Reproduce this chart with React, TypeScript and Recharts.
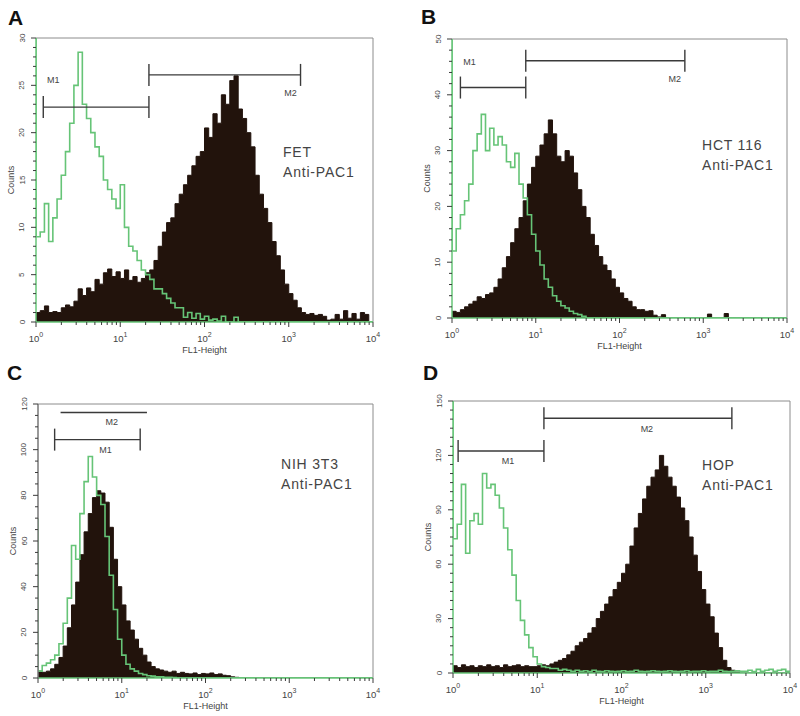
import React from 'react';
import { ComposedChart, Area, Line, XAxis, YAxis, ReferenceLine } from 'recharts';

// channel positions as log10(FL1-Height), 0.05 decade apart
const bins = [
  0, 0.05, 0.1, 0.15, 0.2, 0.25, 0.3, 0.35, 0.4, 0.45,
  0.5, 0.55, 0.6, 0.65, 0.7, 0.75, 0.8, 0.85, 0.9, 0.95,
  1, 1.05, 1.1, 1.15, 1.2, 1.25, 1.3, 1.35, 1.4, 1.45,
  1.5, 1.55, 1.6, 1.65, 1.7, 1.75, 1.8, 1.85, 1.9, 1.95,
  2, 2.05, 2.1, 2.15, 2.2, 2.25, 2.3, 2.35, 2.4, 2.45,
  2.5, 2.55, 2.6, 2.65, 2.7, 2.75, 2.8, 2.85, 2.9, 2.95,
  3, 3.05, 3.1, 3.15, 3.2, 3.25, 3.3, 3.35, 3.4, 3.45,
  3.5, 3.55, 3.6, 3.65, 3.7, 3.75, 3.8, 3.85, 3.9, 3.95,
  4,
];
const decades = [0, 1, 2, 3, 4];

// A - FET
const fetControl = [
  99, 9, 9.5, 12.5, 8.5, 11, 13, 15.5, 18, 21,
  25, 28.5, 23, 21.5, 20, 18.5, 17.5, 15, 14, 13,
  12, 14.5, 10, 8, 7.5, 6.5, 5.5, 5, 4.5, 3.5,
  3.5, 3, 2.5, 2, 1.5, 1.5, 0.5, 1, 0.4, 0.9,
  0.3, 0.6, 0.2, 0.3, 0.1, 0.6, 0, 0, 0.5, 0,
  0, 0, 0, 0, 0, 0, 0, 0, 0, 0,
  0, 0, 0, 0, 0, 0, 0, 0, 0, 0,
  0, 0, 0, 0, 0, 0, 0, 0, 0, 0,
  0,
];
const fetSample = [
  1, 1, 1.2, 1.7, 1, 1.1, 1, 1.5, 1.8, 1.6,
  2.2, 3.5, 2.8, 3.6, 3.2, 4.5, 4, 5.2, 5.6, 4.8,
  5.3, 4.6, 5.5, 4.4, 4.8, 4.2, 4.6, 5.2, 5.5, 6.5,
  8, 9.5, 10.5, 11, 12.5, 13.5, 14.5, 15.5, 16.5, 17.5,
  18, 20.5, 19.5, 22, 21, 24, 23, 25.5, 26, 22.5,
  21.5, 20, 18.5, 15.5, 13.5, 12, 10.5, 8.5, 7, 5.5,
  4, 3, 2.3, 1.5, 1, 0.8, 0.9, 0.7, 0.8, 0.6,
  0.2, 0.3, 0.8, 0.3, 1.2, 0.4, 0.9, 0.3, 1, 0.8,
  0,
];

// B - HCT 116
const hctControl = [
  99, 12, 16, 18.5, 21, 24, 30, 33, 36.5, 30,
  34, 31, 32.5, 31, 28, 27, 29.5, 24, 21.5, 18.5,
  15, 12, 9.5, 7, 5.5, 4, 3, 2.2, 1.8, 1.2,
  0.8, 0.6, 0.3, 0, 0, 0, 0, 0, 0, 0,
  0, 0, 0, 0, 0, 0, 0, 0, 0, 0,
  0, 0, 0, 0, 0, 0, 0, 0, 0, 0,
  0, 0, 0, 0, 0, 0, 0, 0, 0, 0,
  0, 0, 0, 0, 0, 0, 0, 0, 0, 0,
  0,
];
const hctSample = [
  1, 1.2, 1, 1.5, 2, 2.5, 3, 3.8, 3.5, 4.2,
  4.5, 5.5, 7, 9, 11, 13.5, 16, 18, 21, 24,
  27, 29, 31, 33, 35.5, 33, 29, 28, 30, 29,
  26, 23, 20, 18, 15, 13, 11, 9.5, 8.5, 7,
  5.5, 4.5, 3.5, 3, 2, 1.5, 1.5, 1.2, 1.3, 0.5,
  0.2, 0.6, 0, 0, 0, 0, 0, 0, 0, 0,
  0, 0, 0.7, 0, 0, 0, 0.8, 0, 0, 0,
  0, 0, 0, 0, 0, 0, 0, 0, 0, 0,
  0,
];

// C - NIH 3T3
const nihControl = [
  70, 3, 5.5, 6.5, 8, 10, 15, 24, 35, 58,
  52, 72, 86, 97, 88, 80, 76, 62, 45, 30,
  17, 10, 6, 4, 3, 2, 1.5, 1, 0.8, 0.5,
  0.5, 0.3, 0.3, 0.2, 0, 0, 0, 0, 0, 0,
  0, 0, 0, 0, 0, 0, 0, 0, 0, 0,
  0, 0, 0, 0, 0, 0, 0, 0, 0, 0,
  0, 0, 0, 0, 0, 0, 0, 0, 0, 0,
  0, 0, 0, 0, 0, 0, 0, 0, 0, 0,
  0,
];
const nihSample = [
  2, 3, 2.5, 3, 4, 6, 9, 14, 22, 32,
  42, 54, 64, 72, 79, 82, 81, 77, 66, 52,
  40, 32, 25, 21, 17, 13, 10, 7, 5, 4,
  3.5, 3, 2.5, 3, 2, 2.5, 2, 1.8, 2.2, 1.5,
  2, 1.8, 2.2, 1.5, 1.8, 1.2, 1, 0.5, 0.3, 0,
  0, 0, 0, 0, 0, 0, 0, 0, 0, 0,
  0, 0, 0, 0, 0, 0, 0, 0, 0, 0,
  0, 0, 0, 0, 0, 0, 0, 0, 0, 0,
  0,
];

// D - HOP
const hopControl = [
  999, 74, 82, 104, 66, 84, 88, 82, 110, 102,
  104, 98, 91, 80, 68, 54, 40, 29, 21, 14,
  9, 5, 3.5, 3, 2.5, 2.5, 1.5, 2, 1.5, 1,
  1.5, 1, 1.2, 0.8, 1.5, 1, 0.8, 1.2, 1, 0.8,
  1, 1.2, 0.8, 1, 1.5, 1, 0.8, 1, 1.2, 1,
  0.8, 1, 1.2, 1, 0.8, 1, 1.2, 0.8, 1, 1,
  1.2, 0.8, 1, 1, 1.5, 1, 0.8, 1, 1.2, 1,
  1, 1.5, 0.8, 2, 1, 1.5, 2, 1, 1.5, 2,
  1,
];
const hopSample = [
  3.5, 4, 3, 4.5, 3.5, 4, 3, 4, 3.5, 4.5,
  3.5, 4, 3, 4.5, 3.5, 4, 4.5, 3.5, 4, 3.5,
  3.5, 4, 4.5, 4, 5, 6, 7, 8, 10, 12,
  15, 17, 19, 22, 25, 30, 34, 38, 42, 46,
  50, 55, 60, 70, 80, 88, 96, 103, 108, 112,
  120, 114, 108, 103, 97, 91, 84, 75, 65, 56,
  46, 38, 31, 22, 14, 7, 3, 1.5, 0.5, 0,
  0, 0, 0, 0, 0, 0, 0, 0, 0, 0,
  0,
];

// marker gates: FL1-Height range and the count level they are drawn at
const fetGates = [
  { name: 'M1', from: 1.22, to: 21.9, level: 22.7 },
  { name: 'M2', from: 21.9, to: 1380, level: 26.1 },
];
const hctGates = [
  { name: 'M1', from: 1.26, to: 7.6, level: 41.3 },
  { name: 'M2', from: 7.6, to: 603, level: 46.1 },
];
const nihGates = [
  { name: 'M2', from: 1.86, to: 20, level: 116.3 },
  { name: 'M1', from: 1.58, to: 16.6, level: 104.4 },
];
const hopGates = [
  { name: 'M2', from: 12, to: 2042, level: 140.5 },
  { name: 'M1', from: 1.15, to: 12, level: 122.4 },
];

const fetTicks = [0, 5, 10, 15, 20, 25, 30];
const hctTicks = [0, 10, 20, 30, 40, 50];
const nihTicks = [0, 20, 40, 60, 80, 100, 120];
const hopTicks = [0, 30, 60, 90, 120, 150];

const GREEN = '#66c477';
const FILL = '#22130c';
const INK = '#3a3a3a';
const FRAME = '#8c8c8c';
const FONT = '"Liberation Sans", Arial, Helvetica, sans-serif';

const minorX = decades
  .slice(0, -1)
  .flatMap((d) => [2, 3, 4, 5, 6, 7, 8, 9].map((m) => d + Math.log10(m)));
const xTickValues = [...decades, ...minorX].sort((a, b) => a - b);

type LabelSpot = { anchor: 'start' | 'end' | 'middle'; dx: number; dy: number };

const panels = [
  {
    letter: 'A', cell: 'FET', control: fetControl, sample: fetSample, gates: fetGates,
    yTicks: fetTicks, yStep: 1, yAxisColor: GREEN,
    box: { x: 0, y: 0, w: 400, h: 360 }, plot: { l: 36, t: 38, r: 373, b: 322 },
    letterAt: [8, 25], cellAt: [283, 157],
    spots: [{ anchor: 'start', dx: 10, dy: -24 }, { anchor: 'end', dx: -10, dy: 21 }] as LabelSpot[],
  },
  {
    letter: 'B', cell: 'HCT 116', control: hctControl, sample: hctSample, gates: hctGates,
    yTicks: hctTicks, yStep: 2, yAxisColor: GREEN,
    box: { x: 400, y: 0, w: 400, h: 360 }, plot: { l: 452, t: 39, r: 787, b: 318 },
    letterAt: [421, 24], cellAt: [702, 150],
    spots: [{ anchor: 'start', dx: 9, dy: -23 }, { anchor: 'end', dx: -10, dy: 21 }] as LabelSpot[],
  },
  {
    letter: 'C', cell: 'NIH 3T3', control: nihControl, sample: nihSample, gates: nihGates,
    yTicks: nihTicks, yStep: 5, yAxisColor: '#777',
    box: { x: 0, y: 360, w: 400, h: 356 }, plot: { l: 38, t: 404, r: 373, b: 678 },
    letterAt: [7, 380], cellAt: [281, 469],
    spots: [{ anchor: 'middle', dx: 8, dy: 13 }, { anchor: 'middle', dx: 8, dy: 13 }] as LabelSpot[],
  },
  {
    letter: 'D', cell: 'HOP', control: hopControl, sample: hopSample, gates: hopGates,
    yTicks: hopTicks, yStep: 5, yAxisColor: GREEN,
    box: { x: 400, y: 360, w: 400, h: 356 }, plot: { l: 453, t: 401, r: 790, b: 673 },
    letterAt: [423, 380], cellAt: [702, 470],
    spots: [{ anchor: 'middle', dx: 9, dy: 14 }, { anchor: 'middle', dx: 7, dy: 13 }] as LabelSpot[],
  },
];

type Panel = (typeof panels)[number];

const XTick = (props: any) => {
  const { x, y, payload } = props;
  const v = payload.value;
  const major = decades.includes(v);
  return (
    <g>
      <line x1={x} x2={x} y1={y} y2={y + (major ? 5 : 3)} stroke={INK} strokeWidth={1} />
      {major && (
        <text x={x} y={y + 20} textAnchor="middle" fontSize={9.5} fill="#444" fontFamily={FONT}>
          10<tspan dy={-5} fontSize={7}>{v}</tspan>
        </text>
      )}
    </g>
  );
};

const makeYTick = (majors: number[]) => (props: any) => {
  const { x, y, payload } = props;
  const v = payload.value;
  const major = majors.includes(v);
  const tx = x - 14;
  return (
    <g>
      <line x1={x - (major ? 5 : 3)} x2={x} y1={y} y2={y} stroke={INK} strokeWidth={1} />
      {major && (
        <text
          x={tx}
          y={y}
          transform={`rotate(-90 ${tx} ${y})`}
          textAnchor="middle"
          dominantBaseline="central"
          fontSize={8}
          fill="#444"
          fontFamily={FONT}
        >
          {v}
        </text>
      )}
    </g>
  );
};

function Histogram({ p }: { p: Panel }) {
  const { box, plot } = p;
  const yAxisW = 30;
  const xAxisH = 30;
  const yMax = p.yTicks[p.yTicks.length - 1];
  const margin = {
    top: plot.t - box.y,
    right: box.x + box.w - plot.r,
    bottom: box.y + box.h - plot.b - xAxisH,
    left: plot.l - box.x - yAxisW,
  };
  const rows = bins.map((x, i) => ({ x, sample: p.sample[i], control: p.control[i] }));
  const yTickValues = Array.from({ length: yMax / p.yStep + 1 }, (_, i) => i * p.yStep);
  // gate end bars, 11px tall each way
  const half = (11 * yMax) / (plot.b - plot.t);
  const midX = (plot.l + plot.r) / 2 - box.x;
  const midY = (plot.t + plot.b) / 2 - box.y;

  return (
    <div style={{ position: 'absolute', left: box.x, top: box.y, width: box.w, height: box.h }}>
      <ComposedChart width={box.w} height={box.h} data={rows} margin={margin}>
        <XAxis
          dataKey="x"
          type="number"
          domain={[0, 4]}
          allowDataOverflow
          ticks={xTickValues}
          interval={0}
          tickSize={0}
          tickMargin={0}
          tickLine={false}
          tick={XTick}
          height={xAxisH}
          axisLine={{ stroke: GREEN, strokeWidth: 1.5 }}
        />
        <YAxis
          type="number"
          domain={[0, yMax]}
          allowDataOverflow
          ticks={yTickValues}
          interval={0}
          tickSize={0}
          tickMargin={0}
          tickLine={false}
          tick={makeYTick(p.yTicks)}
          width={yAxisW}
          axisLine={{ stroke: p.yAxisColor, strokeWidth: 1.5 }}
        />
        <ReferenceLine y={yMax} stroke={FRAME} strokeWidth={1} />
        <ReferenceLine x={4} stroke={FRAME} strokeWidth={1} />
        <Area
          type="stepBefore"
          dataKey="sample"
          stroke={FILL}
          strokeWidth={1}
          fill={FILL}
          fillOpacity={1}
          isAnimationActive={false}
        />
        <Line
          type="stepBefore"
          dataKey="control"
          stroke={GREEN}
          strokeWidth={1.6}
          dot={false}
          isAnimationActive={false}
        />
        {p.gates.map((g, i) => {
          const x1 = Math.log10(g.from);
          const x2 = Math.log10(g.to);
          const spot = p.spots[i];
          return (
            <React.Fragment key={g.name}>
              <ReferenceLine
                segment={[{ x: x1, y: g.level }, { x: x2, y: g.level }]}
                stroke={INK}
                strokeWidth={1.4}
                label={(lp: any) => {
                  const vb = lp.viewBox || {};
                  const ax =
                    spot.anchor === 'start' ? vb.x : spot.anchor === 'end' ? vb.x + vb.width : vb.x + vb.width / 2;
                  return (
                    <text
                      x={ax + spot.dx}
                      y={vb.y + spot.dy}
                      textAnchor="middle"
                      fontSize={9}
                      fill="#444"
                      fontFamily={FONT}
                    >
                      {g.name}
                    </text>
                  );
                }}
              />
              <ReferenceLine
                segment={[{ x: x1, y: g.level - half }, { x: x1, y: g.level + half }]}
                stroke={INK}
                strokeWidth={1.4}
              />
              <ReferenceLine
                segment={[{ x: x2, y: g.level - half }, { x: x2, y: g.level + half }]}
                stroke={INK}
                strokeWidth={1.4}
              />
            </React.Fragment>
          );
        })}
      </ComposedChart>
      <svg
        width={box.w}
        height={box.h}
        style={{ position: 'absolute', left: 0, top: 0, pointerEvents: 'none' }}
        fontFamily={FONT}
      >
        <text x={p.letterAt[0] - box.x} y={p.letterAt[1] - box.y} fontSize={21} fontWeight="bold" fill="#111">
          {p.letter}
        </text>
        <text x={p.cellAt[0] - box.x} y={p.cellAt[1] - box.y} fontSize={14} letterSpacing={0.8} fill="#444">
          {p.cell}
        </text>
        <text x={p.cellAt[0] - box.x} y={p.cellAt[1] - box.y + 20} fontSize={14} letterSpacing={0.8} fill="#444">
          Anti-PAC1
        </text>
        <text
          x={plot.l - box.x - 25}
          y={midY}
          transform={`rotate(-90 ${plot.l - box.x - 25} ${midY})`}
          textAnchor="middle"
          dominantBaseline="central"
          fontSize={9}
          fill="#444"
        >
          Counts
        </text>
        <text x={midX} y={plot.b - box.y + 31} textAnchor="middle" fontSize={9} fill="#444">
          FL1-Height
        </text>
      </svg>
    </div>
  );
}

export default function App() {
  return (
    <div style={{ position: 'absolute', left: 0, top: 0, width: 800, height: 716, background: '#fff' }}>
      {panels.map((p) => (
        <Histogram key={p.letter} p={p} />
      ))}
    </div>
  );
}
